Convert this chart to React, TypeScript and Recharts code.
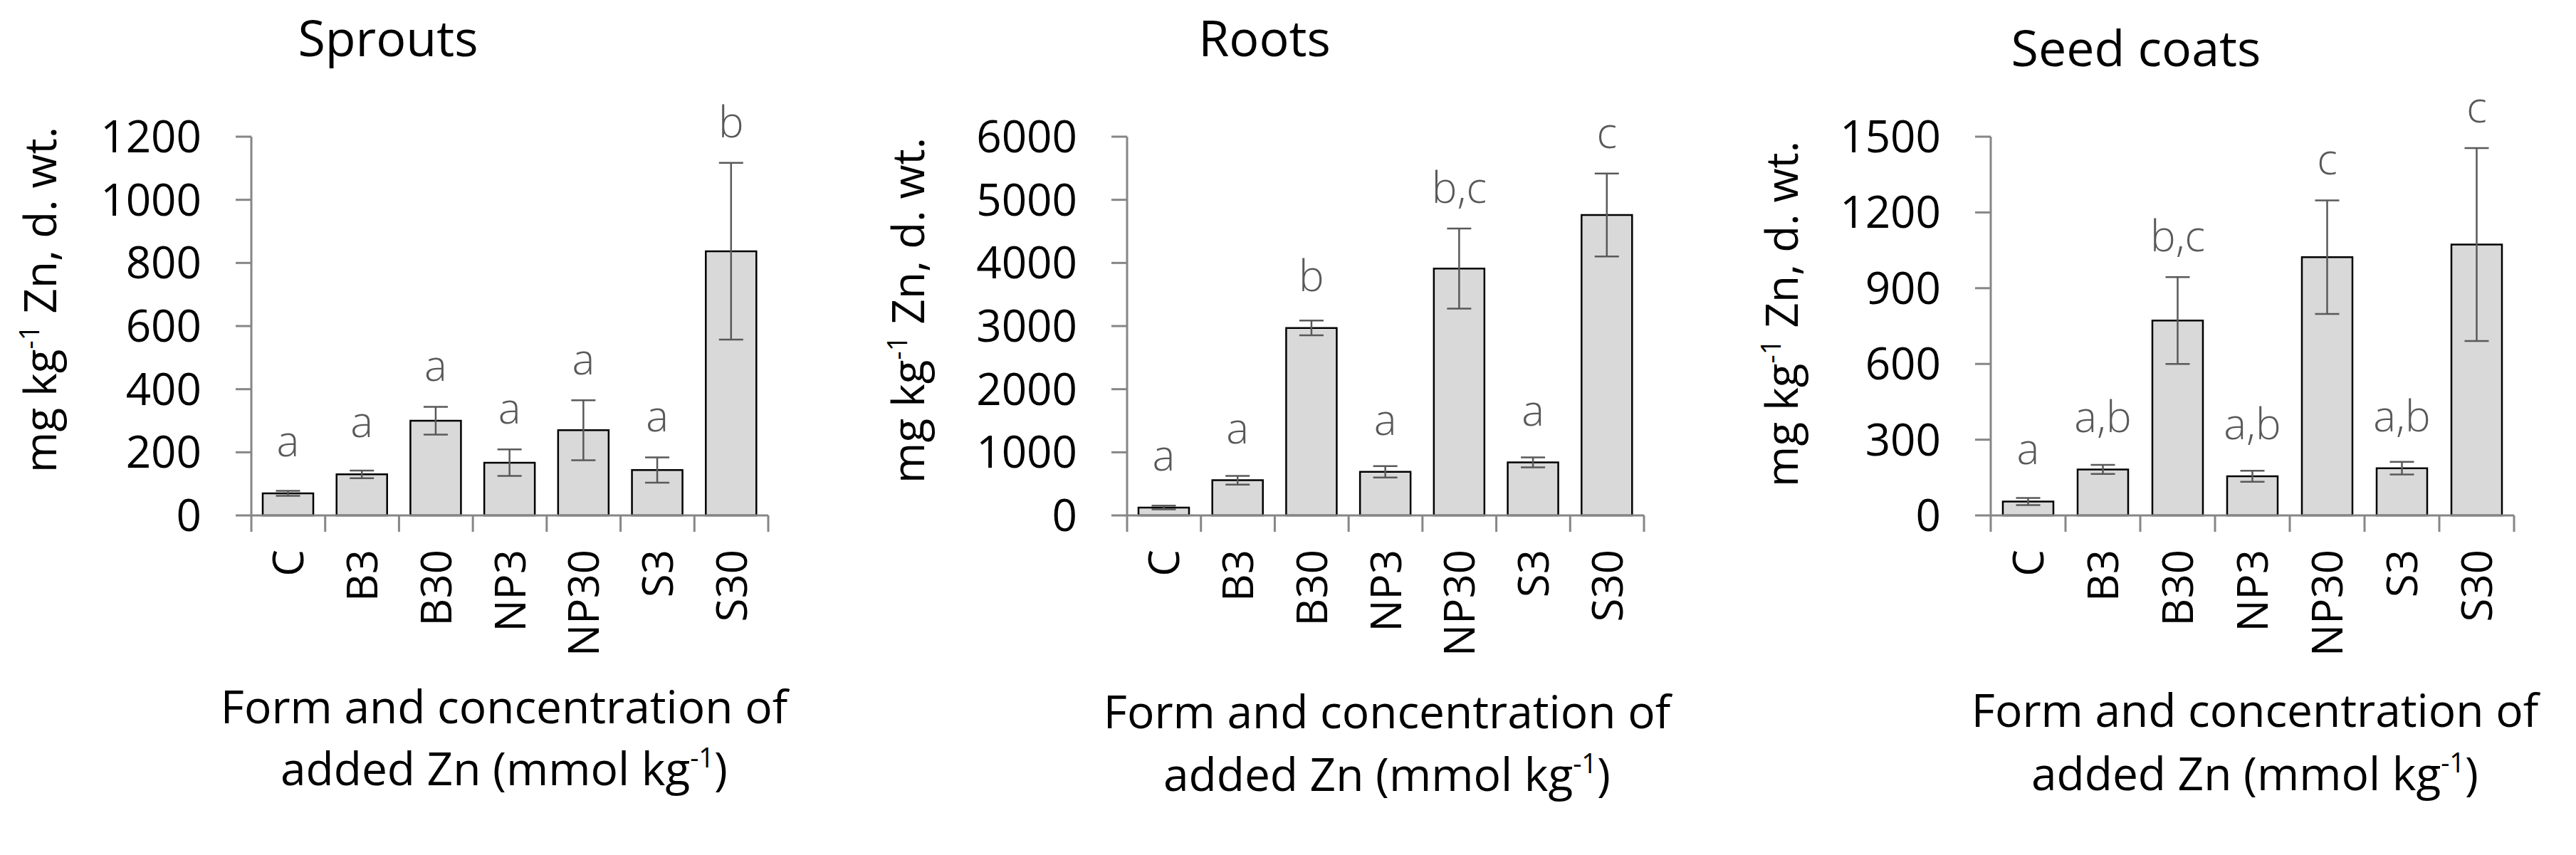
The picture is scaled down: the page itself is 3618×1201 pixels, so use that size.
import React from 'react';
import { BarChart, Bar, XAxis, YAxis, ErrorBar, LabelList } from 'recharts';

const categories = ['C', 'B3', 'B30', 'NP3', 'NP30', 'S3', 'S30'];

const sproutsValues = [70, 130, 300, 167, 270, 144, 837];
const sproutsErrors = [8, 12, 44, 42, 95, 40, 280];
const sproutsLetters = ['a', 'a', 'a', 'a', 'a', 'a', 'b'];
const sproutsTicks = [0, 200, 400, 600, 800, 1000, 1200];

const rootsValues = [125, 557, 2970, 690, 3910, 840, 4760];
const rootsErrors = [30, 70, 118, 90, 634, 80, 657];
const rootsLetters = ['a', 'a', 'b', 'a', 'b,c', 'a', 'c'];
const rootsTicks = [0, 1000, 2000, 3000, 4000, 5000, 6000];

const seedValues = [55, 182, 772, 155, 1023, 187, 1073];
const seedErrors = [14, 18, 172, 22, 225, 25, 382];
const seedLetters = ['a', 'a,b', 'b,c', 'a,b', 'c', 'a,b', 'c'];
const seedTicks = [0, 300, 600, 900, 1200, 1500];

const FONT = '"Open Sans", "DejaVu Sans", sans-serif';
const AXIS_GRAY = '#868686';
const ERR_GRAY = '#595959';
const PLOT_TOP = 192;
const PLOT_BOTTOM = 724;
const H = 1201;
const YAXIS_W = 100;
const XAXIS_H = 300;

type Panel = {
  title: string;
  values: number[];
  errors: number[];
  letters: string[];
  ticks: number[];
  left: number;
  width: number;
  plotLeft: number;
  plotRight: number;
  titleX: number;
  titleY: number;
  yLabelX: number;
  yLabelY: number;
  xTitleX: number;
  xTitleY1: number;
  xTitleY2: number;
};

const panels: Panel[] = [
  {
    title: 'Sprouts', values: sproutsValues, errors: sproutsErrors, letters: sproutsLetters, ticks: sproutsTicks,
    left: 0, width: 1200, plotLeft: 353, plotRight: 1079,
    titleX: 545, titleY: 79, yLabelX: 79, yLabelY: 421, xTitleX: 708, xTitleY1: 1016, xTitleY2: 1103,
  },
  {
    title: 'Roots', values: rootsValues, errors: rootsErrors, letters: rootsLetters, ticks: rootsTicks,
    left: 1200, width: 1200, plotLeft: 383, plotRight: 1109,
    titleX: 1776, titleY: 79, yLabelX: 1298, yLabelY: 436, xTitleX: 1948, xTitleY1: 1023, xTitleY2: 1111,
  },
  {
    title: 'Seed coats', values: seedValues, errors: seedErrors, letters: seedLetters, ticks: seedTicks,
    left: 2400, width: 1218, plotLeft: 396, plotRight: 1131,
    titleX: 3000, titleY: 93, yLabelX: 2525, yLabelY: 441, xTitleX: 3167, xTitleY1: 1021, xTitleY2: 1110,
  },
];

const makeCatTick = (band: number, count: number) => (props: any) => {
  const { x, y, payload, index } = props;
  const lx = x - band / 2;
  const rx = x + band / 2;
  return (
    <g>
      <line x1={lx} x2={lx} y1={y} y2={y + 23} stroke={AXIS_GRAY} strokeWidth={3} />
      {index === count - 1 && <line x1={rx} x2={rx} y1={y} y2={y + 23} stroke={AXIS_GRAY} strokeWidth={3} />}
      <text
        transform={`translate(${x},${y + 48}) rotate(-90)`}
        textAnchor="end"
        dy="0.36em"
        fontSize={60}
        fontFamily={FONT}
        fill="#000"
      >
        {payload.value}
      </text>
    </g>
  );
};

const makeLetter = (data: any[]) => (props: any) => {
  const vb = props.viewBox || props;
  const x = Number(props.x ?? vb.x);
  const y = Number(props.y ?? vb.y);
  const width = Number(props.width ?? vb.width);
  const height = Number(props.height ?? vb.height);
  const idx = props.index;
  const d = data[idx];
  if (!d) return null;
  const ppu = height / d.value;
  const errTop = y - d.err * ppu;
  const baseline = Math.min(y - 52, errTop - 36);
  return (
    <text
      x={x + width / 2}
      y={baseline}
      textAnchor="middle"
      fontSize={60}
      fontFamily={FONT}
      fontWeight={300}
      fill={ERR_GRAY}
    >
      {props.value}
    </text>
  );
};

function PanelChart({ p }: { p: Panel }) {
  const data = categories.map((name, i) => ({
    name,
    value: p.values[i],
    err: p.errors[i],
    letter: p.letters[i],
  }));
  const band = (p.plotRight - p.plotLeft) / categories.length;
  const max = p.ticks[p.ticks.length - 1];
  return (
    <div style={{ position: 'absolute', left: p.left, top: 0, width: p.width, height: H }}>
      <BarChart
        width={p.width}
        height={H}
        data={data}
        margin={{
          top: PLOT_TOP,
          right: p.width - p.plotRight,
          bottom: H - PLOT_BOTTOM - XAXIS_H,
          left: p.plotLeft - YAXIS_W,
        }}
        barSize={71}
      >
        <XAxis
          dataKey="name"
          type="category"
          height={XAXIS_H}
          interval={0}
          tickLine={false}
          tickSize={0}
          tickMargin={0}
          axisLine={{ stroke: AXIS_GRAY, strokeWidth: 3 }}
          tick={makeCatTick(band, categories.length)}
        />
        <YAxis
          type="number"
          domain={[0, max]}
          ticks={p.ticks}
          interval={0}
          width={YAXIS_W}
          tickSize={22}
          tickMargin={48}
          axisLine={{ stroke: AXIS_GRAY, strokeWidth: 3 }}
          tickLine={{ stroke: AXIS_GRAY, strokeWidth: 3 }}
          tick={{ fontSize: 62, fill: '#000', fontFamily: FONT }}
        />
        <Bar dataKey="value" fill="#d9d9d9" stroke="#000" strokeWidth={2.5} isAnimationActive={false}>
          <ErrorBar dataKey="err" direction="y" width={17} stroke={ERR_GRAY} strokeWidth={2.5} />
          <LabelList dataKey="letter" content={makeLetter(data)} />
        </Bar>
      </BarChart>
    </div>
  );
}

function Texts() {
  return (
    <svg
      width={3618}
      height={H}
      style={{ position: 'absolute', left: 0, top: 0, pointerEvents: 'none' }}
      fontFamily={FONT}
    >
      {panels.map((p) => (
        <g key={p.title}>
          <text x={p.titleX} y={p.titleY} textAnchor="middle" fontSize={70} fill="#000">
            {p.title}
          </text>
          <text
            transform={`translate(${p.yLabelX},${p.yLabelY}) rotate(-90)`}
            textAnchor="middle"
            fontSize={62}
            fill="#000"
          >
            <tspan>mg kg</tspan>
            <tspan dy={-24} fontSize={38}>-1</tspan>
            <tspan dy={24}> Zn, d. wt.</tspan>
          </text>
          <text x={p.xTitleX} y={p.xTitleY1} textAnchor="middle" fontSize={64} fill="#000">
            Form and concentration of
          </text>
          <text x={p.xTitleX} y={p.xTitleY2} textAnchor="middle" fontSize={64} fill="#000">
            <tspan>added Zn (mmol kg</tspan>
            <tspan dy={-25} fontSize={38}>-1</tspan>
            <tspan dy={25}>)</tspan>
          </text>
        </g>
      ))}
    </svg>
  );
}

export default function App() {
  return (
    <div style={{ position: 'absolute', left: 0, top: 0, width: 3618, height: H, background: '#fff', fontFamily: FONT }}>
      {panels.map((p) => (
        <PanelChart key={p.title} p={p} />
      ))}
      <Texts />
    </div>
  );
}
